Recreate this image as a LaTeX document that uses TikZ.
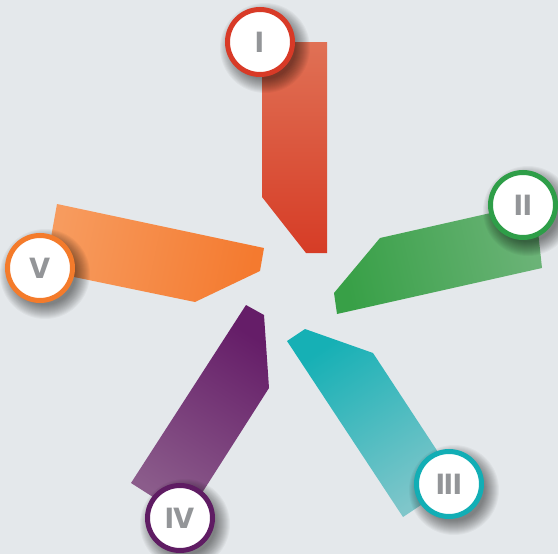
\documentclass[tikz,border=0pt]{standalone}
\usepackage{fontspec}
\newfontfamily\numfont{Poppins}
\definecolor{bg}{HTML}{E4E8EB}
\definecolor{numgray}{HTML}{939598}
\definecolor{redA}{HTML}{E07155}\definecolor{redB}{HTML}{D63C26}\definecolor{redC}{HTML}{D83A27}
\definecolor{grnA}{HTML}{6BB377}\definecolor{grnB}{HTML}{38A047}\definecolor{grnC}{HTML}{2E9E48}
\definecolor{tealA}{HTML}{7FC6CA}\definecolor{tealB}{HTML}{16B0B5}\definecolor{tealC}{HTML}{12AEB5}
\definecolor{purA}{HTML}{8B5C8B}\definecolor{purB}{HTML}{651D68}\definecolor{purC}{HTML}{5F1C63}
\definecolor{orA}{HTML}{F79B5E}\definecolor{orB}{HTML}{F47A2F}\definecolor{orC}{HTML}{F47B2B}
\begin{document}
\begin{tikzpicture}[x=1pt,y=-1pt,
  badge/.style={circle, fill=white, line width=5pt, minimum size=65pt, inner sep=0pt,
    font=\numfont\bfseries\fontsize{29}{29}\selectfont, text=numgray},
  softshade/.style={fill=black, opacity=0.035}]
\useasboundingbox (0,0) rectangle (558,554);
\fill[bg] (0,0) rectangle (558,554);
% arms
\shade[top color=redA, bottom color=redB, shading angle=0]
  (262,42) -- (327,42) -- (327,253) -- (306,253) -- (262,197) -- cycle;
\shade[top color=grnA, bottom color=grnB, shading angle=-77.2]
  (334,293) -- (380,238) -- (535,203) -- (542,268) -- (337,314) -- cycle;
\shade[top color=tealA, bottom color=tealB, shading angle=-146.6]
  (287,341) -- (305,329) -- (373,353) -- (457,481) -- (403,517) -- cycle;
\shade[top color=purA, bottom color=purB, shading angle=147.1]
  (246,305) -- (264,315) -- (269,388) -- (186,518) -- (131,483) -- cycle;
\shade[top color=orA, bottom color=orB, shading angle=78.2]
  (57,204) -- (264,248) -- (260,271) -- (195,302) -- (45,271) -- cycle;
% badge positions
\coordinate (p1) at (260,42);
\coordinate (p2) at (523,205);
\coordinate (p3) at (449,484);
\coordinate (p4) at (180,518);
\coordinate (p5) at (40,268);
% soft shadows
\foreach \p in {p1,p2,p3,p4,p5}{
  \foreach \r in {31,32,...,45}{
    \fill[softshade] ([shift={(5,6)}]\p) circle[radius=\r];
  }
}
% badges
\node[badge, draw=redC] (c1) at (p1) {I};
\node[badge, draw=grnC] (c2) at (p2) {II};
\node[badge, draw=tealC] (c3) at (p3) {III};
\node[badge, draw=purC] (c4) at (p4) {IV};
\node[badge, draw=orC] (c5) at (p5) {V};
\end{tikzpicture}
\end{document}
